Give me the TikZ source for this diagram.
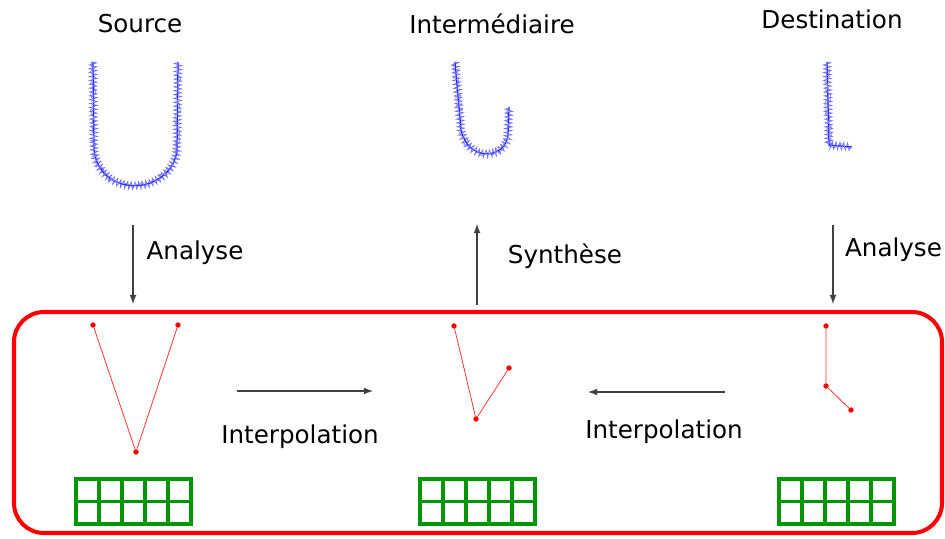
\documentclass[tikz,border=0pt]{standalone}
\usepackage{fontspec}
\setmainfont{DejaVu Sans}
\usetikzlibrary{decorations.pathmorphing}

\definecolor{trait}{RGB}{0,0,255}
\definecolor{squelette}{RGB}{255,0,0}
\definecolor{grille}{RGB}{0,150,0}

\tikzset{
  titre/.style={font=\fontsize{14}{17}\selectfont},
  fleche/.style={-latex,black!75,line width=0.8pt},
  lettre/.style={trait,line width=0.7pt,line join=round},
  hachure/.style={trait!60,line width=0.35pt,decorate,
    decoration={zigzag,segment length=2.2pt,amplitude=2.2pt}},
  bruit/.style={trait!50,line width=0.35pt,decorate,
    decoration={random steps,segment length=1.5pt,amplitude=1.8pt}},
  point/.style={circle,draw=squelette,fill=squelette,inner sep=0pt,minimum size=2.6pt},
  os/.style={squelette!80,line width=0.45pt},
  case/.style={grille,line width=1.8pt}
}

\begin{document}
\begin{tikzpicture}[x=0.02cm,y=-0.02cm]

\useasboundingbox (0,0) rectangle (945,538);

% Titres
\node[titre] (src) at (140,24) {Source};
\node[titre] (inter) at (492,24) {Intermédiaire};
\node[titre] (dst) at (832,19) {Destination};

% Lettres
\draw[lettre]
(93,62) -- (94,150)
.. controls (100,200) and (172,195) .. (177,150)
-- (178,62);
\draw[hachure]
(93,62) -- (94,150)
.. controls (100,200) and (172,195) .. (177,150)
-- (178,62);
\draw[bruit]
(93,62) -- (94,150)
.. controls (100,200) and (172,195) .. (177,150)
-- (178,62);

\draw[lettre]
(455,62) -- (461,130)
.. controls (468,162) and (505,160) .. (508,135)
-- (509,107);
\draw[hachure]
(455,62) -- (461,130)
.. controls (468,162) and (505,160) .. (508,135)
-- (509,107);
\draw[bruit]
(455,62) -- (461,130)
.. controls (468,162) and (505,160) .. (508,135)
-- (509,107);

\draw[lettre]
(827,62) -- (829,145)
-- (852,147);
\draw[hachure]
(827,62) -- (829,145)
-- (852,147);
\draw[bruit]
(827,62) -- (829,145)
-- (852,147);

% Cadre
\draw[squelette,line width=2.3pt,rounded corners=0.6cm]
(14,312)
rectangle
(942,533);

% Fleches verticales
\coordinate (a1) at (133,225);
\coordinate (b1) at (133,304);
\coordinate (a2) at (477,305);
\coordinate (b2) at (477,224);
\coordinate (a3) at (833,225);
\coordinate (b3) at (833,304);

\draw[fleche] (a1) -- (b1);
\draw[fleche] (a2) -- (b2);
\draw[fleche] (a3) -- (b3);

\node[titre] (an1) at (195,253) {Analyse};
\node[titre] (syn) at (565,256) {Synthèse};
\node[titre,anchor=east,inner sep=1pt] (an2) at (944,250) {Analyse};

% Squelettes
\node[point] (s1) at (93,325) {};
\node[point] (s2) at (136,452) {};
\node[point] (s3) at (178,325) {};
\draw[os] (s1) -- (s2) -- (s3);

\node[point] (m1) at (454,326) {};
\node[point] (m2) at (476,419) {};
\node[point] (m3) at (509,368) {};
\draw[os] (m1) -- (m2) -- (m3);

\node[point] (d1) at (826,326) {};
\node[point] (d2) at (826,386) {};
\node[point] (d3) at (851,410) {};
\draw[os] (d1) -- (d2) -- (d3);

% Interpolations
\coordinate (c1) at (237,391);
\coordinate (e1) at (373,391);
\coordinate (c2) at (725,392);
\coordinate (e2) at (588,392);

\draw[fleche] (c1) -- (e1);
\draw[fleche] (c2) -- (e2);

\node[titre] (int1) at (300,437) {Interpolation};
\node[titre] (int2) at (664,432) {Interpolation};

% Grilles
\foreach \gx in {76,420,779}
  \foreach \i in {0,...,4}
    \foreach \j in {0,1}
      \draw[case]
      (\gx+\i*23,479+\j*22.5)
      rectangle
      ++(23,22.5);

\end{tikzpicture}
\end{document}
